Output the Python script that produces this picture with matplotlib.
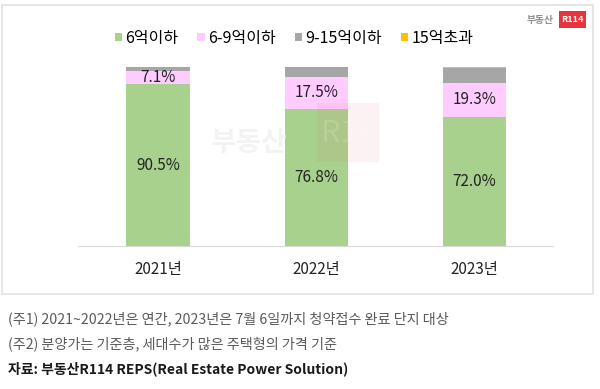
import matplotlib.pyplot as plt
from matplotlib.patches import Rectangle

plt.rcParams['font.family'] = ['Noto Sans CJK KR', 'DejaVu Sans']

years = ["2021년", "2022년", "2023년"]
series = ["6억이하", "6-9억이하", "9-15억이하", "15억초과"]
under6 = [90.5, 76.8, 72.0]
from6to9 = [7.1, 17.5, 19.3]
from9to15 = [2.4, 5.7, 8.2]
over15 = [0.0, 0.0, 0.6]
colors = ["#A9D18E", "#FFCCFF", "#A6A6A6", "#FFC000"]

fig = plt.figure(figsize=(6, 3.89), dpi=100)
W, H = 600, 389

# chart frame
fig.patches.append(Rectangle((2 / W, 1 - 294 / H), 591 / W, 289 / H, transform=fig.transFigure,
                             facecolor="white", edgecolor="#E2E2E2", lw=1.2, zorder=-5))

ax = fig.add_axes([78 / W, 1 - 246 / H, 475 / W, 179 / H])
ax.set_facecolor("none")
x = range(len(years))
vals = [under6, from6to9, from9to15, over15]
bottom = [0, 0, 0]
handles = []
for v, c, name in zip(vals, colors, series):
    b = ax.bar(x, v, bottom=bottom, width=0.4, color=c, label=name, zorder=2)
    handles.append(b)
    bottom = [bb + vv for bb, vv in zip(bottom, v)]

for i in x:
    ax.text(i, under6[i] / 2, f"{under6[i]:.1f}%", ha="center", va="center", fontsize=11, color="#222222", zorder=3)
    ax.text(i, under6[i] + from6to9[i] / 2, f"{from6to9[i]:.1f}%", ha="center", va="center",
            fontsize=11, color="#222222", zorder=3)

ax.set_ylim(0, 100)
ax.set_xlim(-0.505, 2.495)
for s in ["top", "right", "left"]:
    ax.spines[s].set_visible(False)
ax.spines["bottom"].set_color("#D9D9D9")
ax.set_yticks([])
ax.set_xticks(list(x))
ax.set_xticklabels(years, fontsize=11, color="#222222")
ax.tick_params(axis="x", length=0, pad=11)

fig.legend(handles=handles, labels=series, loc="center", bbox_to_anchor=(294 / W, 1 - 38 / H), ncol=4,
           frameon=False, fontsize=11.5, handlelength=0.45, handleheight=0.45, handletextpad=0.2,
           columnspacing=1.2)

# watermark
fig.text(249 / W, 1 - 143 / H, "부동산", fontsize=20, fontweight="bold", color="#F3F3F3",
         ha="center", va="center", zorder=1)
fig.patches.append(Rectangle((317 / W, 1 - 162 / H), 62 / W, 59 / H, transform=fig.transFigure,
                             facecolor="#E8323C", alpha=0.06, edgecolor="none", zorder=4))
fig.text(348 / W, 1 - 133 / H, "R14", fontsize=22, color="white", alpha=0.15,
         ha="center", va="center", zorder=5)

# logo
fig.text(540 / W, 1 - 20 / H, "부동산", fontsize=7, fontweight="bold", color="#909090", ha="center", va="center")
fig.patches.append(Rectangle((559 / W, 1 - 28 / H), 27 / W, 17 / H, transform=fig.transFigure,
                             facecolor="#E8323C", edgecolor="none"))
fig.text(572.5 / W, 1 - 20 / H, "R114", fontsize=6.5, fontweight="bold", color="white", ha="center", va="center")

# notes
fig.text(8 / W, 1 - 319 / H, "(주1) 2021~2022년은 연간, 2023년은 7월 6일까지 청약접수 완료 단지 대상",
         fontsize=10.2, color="#5A5A5A", va="center")
fig.text(8 / W, 1 - 344 / H, "(주2) 분양가는 기준층, 세대수가 많은 주택형의 가격 기준",
         fontsize=10.2, color="#5A5A5A", va="center")
fig.text(8 / W, 1 - 369 / H, "자료: 부동산R114 REPS(Real Estate Power Solution)",
         fontsize=10, color="#1A1A1A", fontweight="bold", va="center")

fig.savefig("out.png", dpi=100)
